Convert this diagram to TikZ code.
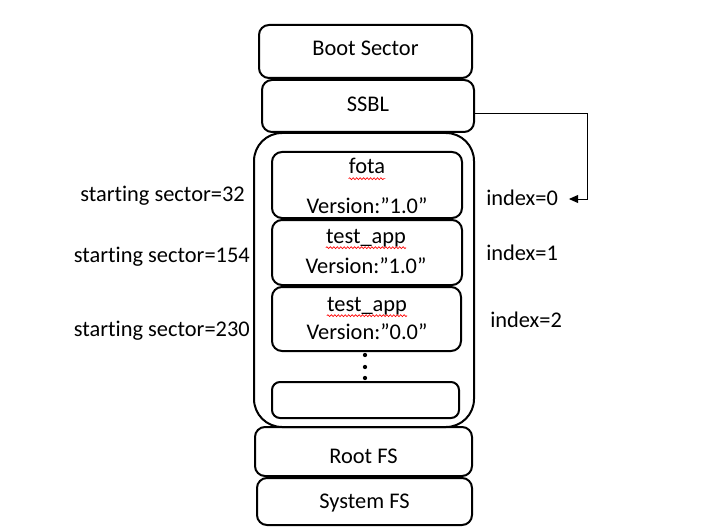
\documentclass[tikz,border=0pt]{standalone}
\usepackage{fontspec}
\setmainfont{Carlito}[Ligatures=NoCommon]
\usetikzlibrary{fit,arrows.meta,decorations.pathmorphing}
\begin{document}
\begin{tikzpicture}[x=0.75pt,y=-0.75pt,
  box/.style={draw,line width=1.5pt,rounded corners=7.5pt,inner sep=0pt},
  bigbox/.style={draw,line width=1.5pt,rounded corners=21pt,inner sep=0pt},
  txt/.style={anchor=base,inner sep=0pt,font=\fontsize{16.8pt}{20pt}\selectfont},
  lbl/.style={inner sep=0pt,font=\fontsize{16.8pt}{20pt}\selectfont},
  spell/.style={draw=red,line width=0.5pt,decorate,
    decoration={snake,amplitude=0.7pt,segment length=2.6pt}},
  dot/.style={fill,circle,inner sep=0pt,minimum size=3.2pt}]
\useasboundingbox (0,0) rectangle (717,531);

% outer partition container
\node[bigbox,fit={(254,133) (474,427)}] (part) {};

% stacked regions
\node[box,fit={(259,25) (472,78)}] (boot) {};
\node[box,fit={(262,80) (474,132)}] (ssbl) {};
\node[box,fit={(272,152) (462,218)}] (fota) {};
\node[box,fit={(272,220) (462,285)}] (app1) {};
\node[box,fit={(272,287) (461,351)}] (app2) {};
\node[box,rounded corners=6pt,fit={(272,382) (459,418)}] (spare) {};
\node[box,fit={(255,427) (472,476)}] (root) {};
\node[box,fit={(257,478) (472,525)}] (sys) {};

% region titles
\node[txt] (tboot) at (365.5,56) {Boot Sector};
\node[txt] (tssbl) at (368,112) {SSBL};
\node[txt] (tfota) at (367,174) {fota};
\node[txt] (vfota) at (367,214) {Version:”1.0”};
\node[txt] (tapp1) at (366,243) {test\_app};
\node[txt] (vapp1) at (366,273) {Version:”1.0”};
\node[txt] (tapp2) at (367,311) {test\_app};
\node[txt] (vapp2) at (367,339) {Version:”0.0”};
\node[txt] (troot) at (363.5,463) {Root FS};
\node[txt] (tsys) at (364.5,508) {System FS};

% spell-check underlines
\foreach \w in {tfota,tapp1,tapp2}
  \draw[spell] ([yshift=-3.5pt]\w.base west) -- ([yshift=-3.5pt]\w.base east);

% continuation dots
\node[dot] (d1) at (365,355) {};
\node[dot] (d2) at (365,367) {};
\node[dot] (d3) at (365,378) {};

% starting sectors
\node[lbl,anchor=base east] (s32) at (245,201) {starting sector=32};
\node[lbl,anchor=base east] (s154) at (250,262) {starting sector=154};
\node[lbl,anchor=base east] (s230) at (250,336) {starting sector=230};

% indices
\node[lbl,anchor=base west] (i0) at (486,205) {index=0};
\node[lbl,anchor=base west] (i1) at (486,260) {index=1};
\node[lbl,anchor=base west] (i2) at (490,327) {index=2};

% SSBL points to the active index
\coordinate (turn) at (587,199);
\draw[line width=0.75pt,-{Triangle[length=7pt,width=6pt]}]
  ([yshift=-5.5pt]ssbl.east) -| (turn) -- ([xshift=8pt]i0.east |- turn);
\end{tikzpicture}
\end{document}
